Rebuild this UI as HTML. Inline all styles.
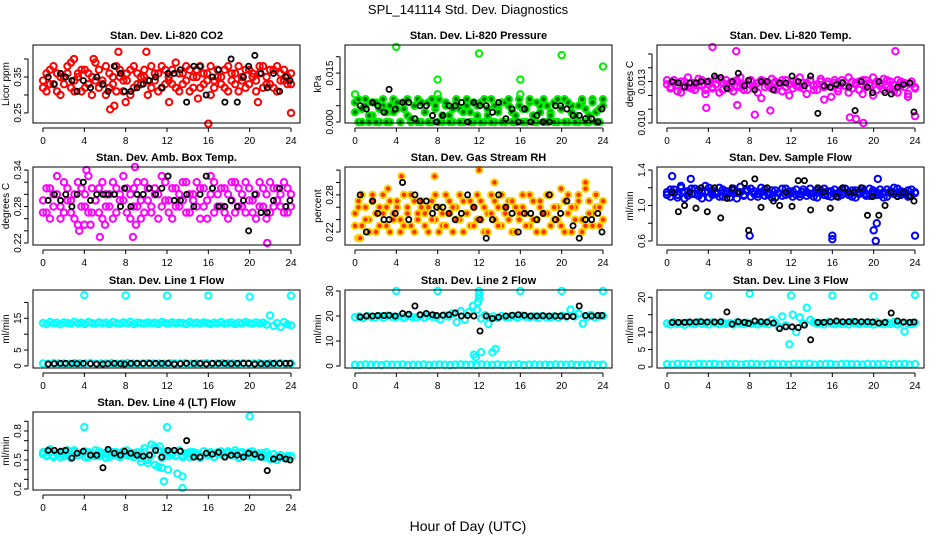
<!DOCTYPE html>
<html><head><meta charset="utf-8"><style>
html,body{margin:0;padding:0;background:#fff}
svg{display:block;font-family:"Liberation Sans",Arial,sans-serif}
</style></head><body>
<svg id="chart" width="936" height="540" viewBox="0 0 936 540">
<text x="468" y="14" text-anchor="middle" font-size="13">SPL_141114  Std. Dev. Diagnostics</text>
<text x="468" y="531" text-anchor="middle" font-size="14">Hour of Day (UTC)</text>
</svg>
<script>
// ---- shared x data ----
const xTicks = [0,4,8,12,16,20,24];
const blackHours = [0.5,1.1,1.7,2.2,2.8,3.3,3.9,4.6,5.2,5.8,6.3,6.9,7.5,7.9,8.5,9.1,9.7,10.3,10.9,11.5,12.1,12.7,13.3,13.9,14.6,15.2,15.8,16.4,17.0,17.6,18.2,18.8,19.4,19.9,20.5,21.1,21.7,22.3,22.9,23.5,23.9];
const outlierHours6 = [4,8,12,16,20,24];

// ---- panel 1: CO2 ----
const co2Vals = [0.34,0.31,0.37,0.33,0.36,0.30,0.35,0.38,0.32,0.34,0.36,0.31,0.37,0.33,0.35,0.39,0.32,0.34,0.30,0.36,0.33,0.38,0.35,0.31,0.34,0.37,0.32,0.36,0.33,0.35,0.30,0.38,0.34,0.36,0.32,0.37,0.35,0.33,0.39,0.31,0.36,0.34,0.37,0.32,0.35,0.38,0.33,0.36,0.30,0.34,0.37,0.35,0.32,0.38,0.34,0.36,0.31,0.35,0.37,0.33,0.36,0.34,0.38,0.32,0.35,0.33,0.37,0.31,0.36,0.34,0.35,0.33];
const co2ValsB = [0.32,0.36,0.33,0.38,0.31,0.35,0.33,0.36,0.39,0.31,0.35,0.37,0.32,0.36,0.30,0.34,0.37,0.33,0.38,0.32,0.35,0.31,0.37,0.34,0.36,0.30,0.38,0.33,0.35,0.37,0.34,0.32,0.36,0.31,0.38,0.33,0.34,0.37,0.32,0.36,0.33,0.38,0.31,0.35,0.37,0.32,0.36,0.34,0.38,0.32,0.35,0.33,0.37,0.31,0.36,0.33,0.38,0.34,0.32,0.37,0.35,0.31,0.36,0.38,0.33,0.37,0.32,0.38,0.34,0.37,0.33,0.36];
const co2Black = [0.35,0.33,0.36,0.35,0.34,0.31,0.34,0.32,0.35,0.33,0.31,0.38,0.36,0.31,0.31,0.32,0.33,0.34,0.35,0.32,0.36,0.36,0.37,0.28,0.38,0.38,0.30,0.35,0.37,0.28,0.40,0.28,0.35,0.38,0.41,0.36,0.32,0.36,0.31,0.35,0.34];
const co2OutH = [6.5,7.3,8,16,24,15,20.8,3,12.2,6.9,4.9,10];
const co2OutV = [0.26,0.42,0.28,0.22,0.25,0.29,0.28,0.40,0.28,0.27,0.40,0.42];

// ---- panel 2: pressure ----
const presVals = [0.006,0,0.004,0.007,0,0.002,0.006,0,0.005,0.003,0,0.007,0.004,0,0.006,0.002,0,0.005,0.007,0,0.003,0.006,0,0.004,0.007,0,0.005,0.002,0,0.006,0.004,0,0.007,0.003,0,0.005,0.006,0,0.002,0.007,0,0.004,0.006,0,0.005,0.003,0,0.007,0.004,0,0.006,0.002,0,0.005,0.007,0,0.003,0.006,0,0.004,0.007,0,0.005,0.002,0,0.006,0.004,0,0.007,0.003,0,0.005];
const presValsB = [0.003,0.007,0,0.005,0.002,0.006,0,0.004,0.007,0,0.005,0.003,0.006,0,0.004,0.007,0.001,0.005,0,0.006,0.003,0,0.007,0.005,0,0.002,0.006,0,0.004,0.007,0,0.003,0.005,0,0.006,0.002,0,0.007,0.004,0,0.005,0.003,0,0.006,0.007,0,0.002,0.005,0,0.004,0.007,0,0.006,0.003,0,0.005,0.002,0,0.007,0.004,0,0.006,0.003,0,0.005,0.007,0,0.002,0.006,0,0.004,0.007];
const presBlack = [0.005,0.004,0.006,0.005,0.003,0.010,0.004,0.006,0.006,0.001,0.005,0.005,0.002,0,0.002,0.005,0.005,0.006,0,0.006,0.005,0.005,0.003,0.006,0.001,0.004,0,0.004,0,0.002,0,0,0.005,0.005,0.004,0.002,0.002,0.001,0.001,0,0.004];
const presOutH = [4,12,20,24,0,8,8,16,16];
const presOutV = [0.023,0.021,0.0205,0.017,0.0085,0.013,0.0085,0.013,0.0085];

// ---- panel 3: Li-820 temp ----
const tempVals = [0.0128,0.0125,0.0131,0.0127,0.0122,0.0130,0.0126,0.0129,0.0124,0.0132,0.0127,0.0121,0.0130,0.0125,0.0128,0.0131,0.0124,0.0127,0.0129,0.0123,0.0131,0.0126,0.0128,0.0124,0.0130,0.0127,0.0122,0.0131,0.0126,0.0129,0.0125,0.0130,0.0127,0.0123,0.0131,0.0128,0.0125,0.0130,0.0126,0.0129,0.0121,0.0131,0.0127,0.0124,0.0130,0.0126,0.0128,0.0119,0.0131,0.0125,0.0129,0.0127,0.0122,0.0130,0.0128,0.0124,0.0131,0.0126,0.0129,0.0120,0.0130,0.0127,0.0124,0.0131,0.0125,0.0128,0.0122,0.0130,0.0126,0.0119,0.0128,0.0125];
const tempValsB = [0.0131,0.0126,0.0129,0.0123,0.0130,0.0127,0.0133,0.0125,0.0129,0.0127,0.0131,0.0124,0.0128,0.0126,0.0132,0.0122,0.0129,0.0131,0.0125,0.0130,0.0126,0.0133,0.0124,0.0128,0.0131,0.0125,0.0129,0.0118,0.0130,0.0127,0.0132,0.0124,0.0129,0.0131,0.0126,0.0120,0.0130,0.0127,0.0133,0.0125,0.0129,0.0131,0.0124,0.0128,0.0132,0.0117,0.0130,0.0126,0.0129,0.0123,0.0131,0.0127,0.0133,0.0125,0.0129,0.0130,0.0121,0.0131,0.0127,0.0133,0.0124,0.0129,0.0132,0.0126,0.0130,0.0123,0.0131,0.0127,0.0129,0.0121,0.0130,0.0126];
const tempBlack = [0.0130,0.0129,0.0126,0.0129,0.0129,0.0130,0.0130,0.0134,0.0133,0.0125,0.0130,0.0136,0.0127,0.0131,0.0124,0.0130,0.0130,0.0124,0.0129,0.0129,0.0134,0.0130,0.0127,0.0134,0.0107,0.0127,0.0126,0.0128,0.0129,0.0126,0.0109,0.0130,0.0126,0.0122,0.0130,0.0122,0.0121,0.0126,0.0128,0.0129,0.0108];
const tempOutH = [4.4,6.7,8.5,10.0,3.8,19,17.7,22.1,24,6.8,18.3];
const tempOutV = [0.0155,0.0152,0.0106,0.0109,0.0111,0.0100,0.0104,0.0152,0.0105,0.0113,0.0103];

// ---- panel 4: amb box temp ----
const ambVals = [0.29,0.27,0.31,0.28,0.30,0.26,0.32,0.29,0.27,0.30,0.25,0.31,0.28,0.33,0.27,0.29,0.31,0.26,0.30,0.28,0.32,0.27,0.30,0.29,0.31,0.26,0.28,0.32,0.29,0.27,0.31,0.28,0.30,0.26,0.33,0.29,0.27,0.31,0.28,0.30,0.29,0.32,0.27,0.30,0.28,0.26,0.31,0.29,0.33,0.27,0.30,0.28,0.31,0.26,0.29,0.32,0.28,0.30,0.27,0.31,0.29,0.26,0.32,0.28,0.30,0.27,0.31,0.29,0.28,0.32,0.27,0.30];
const ambValsB = [0.27,0.31,0.26,0.30,0.33,0.28,0.27,0.31,0.29,0.26,0.32,0.28,0.30,0.27,0.31,0.29,0.27,0.32,0.28,0.30,0.26,0.31,0.29,0.33,0.27,0.30,0.31,0.28,0.26,0.32,0.29,0.27,0.31,0.30,0.28,0.32,0.29,0.26,0.31,0.28,0.32,0.27,0.30,0.29,0.32,0.31,0.28,0.26,0.30,0.32,0.28,0.31,0.27,0.30,0.32,0.27,0.31,0.28,0.32,0.29,0.27,0.30,0.28,0.31,0.26,0.32,0.28,0.31,0.30,0.27,0.31,0.28];
const ambBlack = [0.29,0.30,0.29,0.30,0.28,0.30,0.32,0.29,0.30,0.30,0.30,0.30,0.28,0.31,0.28,0.30,0.30,0.31,0.30,0.31,0.33,0.29,0.29,0.30,0.28,0.30,0.33,0.31,0.28,0.28,0.29,0.28,0.29,0.24,0.30,0.27,0.27,0.29,0.31,0.28,0.29];
const ambOutH = [3.5,4,4.6,5.5,6,8.7,9,21.7,8.9,4.2];
const ambOutV = [0.24,0.25,0.25,0.23,0.25,0.23,0.25,0.22,0.345,0.34];

// ---- panel 5: gas stream RH ----
const rhVals = [0.25,0.27,0.23,0.26,0.24,0.28,0.22,0.26,0.25,0.23,0.27,0.24,0.26,0.22,0.28,0.25,0.23,0.27,0.24,0.26,0.25,0.22,0.27,0.24,0.26,0.23,0.28,0.25,0.22,0.26,0.24,0.27,0.25,0.23,0.26,0.24,0.27,0.22,0.25,0.28,0.24,0.26,0.23,0.25,0.27,0.22,0.26,0.24,0.28,0.25,0.23,0.27,0.24,0.26,0.22,0.25,0.28,0.24,0.26,0.23,0.27,0.25,0.22,0.26,0.28,0.24,0.23,0.27,0.25,0.26,0.23,0.27];
const rhValsB = [0.23,0.26,0.28,0.24,0.22,0.27,0.25,0.23,0.28,0.26,0.22,0.25,0.27,0.24,0.23,0.26,0.28,0.22,0.25,0.27,0.23,0.26,0.24,0.28,0.22,0.25,0.23,0.27,0.26,0.24,0.28,0.22,0.25,0.27,0.23,0.28,0.24,0.26,0.22,0.25,0.27,0.23,0.28,0.26,0.24,0.27,0.22,0.25,0.26,0.23,0.28,0.24,0.22,0.27,0.25,0.28,0.23,0.26,0.24,0.29,0.22,0.28,0.26,0.24,0.27,0.22,0.29,0.25,0.23,0.28,0.26,0.24];
const rhBlack = [0.28,0.22,0.27,0.25,0.24,0.24,0.25,0.30,0.24,0.28,0.27,0.27,0.25,0.26,0.26,0.25,0.24,0.25,0.28,0.26,0.24,0.21,0.24,0.28,0.26,0.25,0.22,0.25,0.25,0.24,0.25,0.28,0.24,0.25,0.27,0.23,0.21,0.24,0.24,0.25,0.22];
const rhOutH = [4.5,7.7,12,13.5,0.3,22.3,3.2,0.5];
const rhOutV = [0.31,0.31,0.32,0.30,0.21,0.30,0.29,0.21];

// ---- panel 6: sample flow ----
const flowVals = [1.15,1.10,1.18,1.12,1.20,1.08,1.16,1.13,1.19,1.11,1.15,1.22,1.09,1.17,1.13,1.20,1.10,1.16,1.14,1.19,1.08,1.15,1.12,1.18,1.10,1.16,1.13,1.20,1.11,1.15,1.17,1.09,1.14,1.19,1.12,1.16,1.10,1.18,1.13,1.15,1.11,1.19,1.14,1.09,1.17,1.12,1.16,1.10,1.18,1.14,1.12,1.19,1.15,1.10,1.17,1.13,1.16,1.11,1.19,1.14,1.12,1.18,1.15,1.10,1.16,1.13,1.19,1.12,1.15,1.17,1.11,1.14];
const flowValsB = [1.12,1.18,1.14,1.09,1.22,1.16,1.11,1.19,1.13,1.17,1.08,1.16,1.20,1.12,1.15,1.10,1.18,1.13,1.09,1.17,1.14,1.21,1.11,1.16,1.19,1.13,1.10,1.15,1.18,1.12,1.09,1.17,1.14,1.11,1.19,1.13,1.16,1.12,1.10,1.18,1.15,1.13,1.10,1.17,1.14,1.19,1.11,1.16,1.13,1.10,1.18,1.14,1.12,1.17,1.09,1.15,1.19,1.13,1.11,1.17,1.15,1.12,1.09,1.18,1.14,1.20,1.11,1.16,1.13,1.10,1.18,1.15];
const flowBlack = [1.15,0.93,1.00,1.15,0.97,1.20,0.93,1.20,0.86,1.08,1.20,1.15,1.25,0.72,1.30,0.98,1.20,1.05,1.00,1.15,0.99,1.28,1.28,0.95,1.20,1.15,0.97,1.10,1.20,1.15,1.15,1.20,0.89,1.10,0.89,1.00,1.15,1.10,1.15,1.10,1.05];
const flowOutH = [0.5,8,16,16,20,20.2,20.3,24,2.3,20.4];
const flowOutV = [1.33,0.66,0.66,0.62,0.72,0.60,0.80,0.66,1.30,1.30];

// ---- panel 7: line 1 flow ----
const l1High = [13.5,13.2,13.8,13.4,13.6,13.1,13.7,13.5,13.3,13.9,13.4,13.6,13.2,13.8,13.5,13.3,13.7,13.4,13.6,13.2,13.8,13.5,13.3,13.7,13.4,13.9,13.2,13.6,13.5,13.3,13.7,13.4,13.6,13.2,13.8,13.5,13.3,13.7,13.4,13.6,13.5,13.2,13.8,13.4,13.6,13.3,13.7,13.5,13.2,13.6,13.4,13.8,13.3,13.5,13.7,13.2,13.6,13.4,13.8,13.5,13.3,13.7,13.4,13.6,13.0,15.9,12.6,13.5,12.3,13.8,13.1,12.8];
const l1Low = [0.8,0.7,0.9,0.8,0.8,0.7,0.9,0.8,0.8,0.9,0.7,0.8,0.8,0.9,0.7,0.8,0.9,0.8,0.7,0.8,0.9,0.8,0.8,0.7,0.9,0.8,0.8,0.9,0.7,0.8,0.8,0.9,0.7,0.8,0.9,0.8,0.8,0.7,0.9,0.8,0.8,0.9,0.7,0.8,0.8,0.9,0.7,0.8];
const l1Black = [0.6,0.7,0.8,0.8,0.8,0.7,0.8,0.7,0.6,0.6,0.7,0.8,0.7,0.6,0.8,0.8,0.8,0.8,0.8,0.8,0.8,0.6,0.7,0.8,0.8,0.8,0.6,0.8,0.8,0.8,0.7,0.8,0.8,0.8,0.6,0.7,0.7,0.8,0.8,0.8,0.8];
const l1OutV = [22.3,22.2,22.1,22.1,21.8,22.1];

// ---- panel 8: line 2 flow ----
const l2High = [19.5,19.8,19.2,20.0,19.6,19.4,19.9,19.3,20.1,19.7,19.5,19.8,19.2,20.0,19.6,19.4,19.9,19.3,20.1,19.7,19.5,18.6,20.2,19.8,21.0,17.5,22.0,18.5,21.5,24.0,22.5,19.0,20.3,19.5,19.8,19.2,20.0,19.6,19.4,19.9,19.3,20.1,19.7,19.5,19.8,19.2,20.0,19.6,19.4,19.9,19.3,20.1,19.7,22.5,19.8,21.0,17.0,19.6,20.4,19.5,19.8,20.0];
const l2Low = [0.5,0.4,0.6,0.5,0.5,0.4,0.6,0.5,0.5,0.6,0.4,0.5,0.5,0.6,0.4,0.5,0.6,0.5,0.4,0.5,0.6,0.5,0.5,0.4,0.6,0.5,0.5,0.6,0.4,0.5,0.5,0.6,0.4,0.5,0.6,0.5,0.5,0.4,0.6,0.5,0.5,0.6,0.4,0.5,0.5,0.6,0.4,0.5];
const l2Black = [19.6,20.0,20.0,20.2,20.2,20.3,20.0,21.0,20.7,24.0,20.5,21.0,20.5,20.2,20.3,20.5,21.2,20.0,20.2,20.0,14.0,20.0,19.0,19.5,20.0,20.3,20.5,20.3,20.0,20.0,20.1,20.0,20.0,20.0,19.8,19.8,24.0,20.2,20.0,20.2,20.2];
const l2OutH = [11.5,11.7,12.2,13.3,13.6,12.9,12.0,11.9,12.0];
const l2OutV = [4.5,3.5,5.5,5.5,6.8,16.8,27.0,25.5,28.5];
const l2OutTop = [30.0,30.0,30.0,30.0,30.0,30.0];

// ---- panel 9: line 3 flow ----
const l3High = [12.5,12.2,12.8,12.4,12.6,12.1,12.7,12.5,12.3,12.9,12.4,12.6,12.2,12.8,12.5,12.3,12.7,12.4,12.6,12.2,12.8,12.5,12.3,12.7,12.4,12.9,12.2,12.6,12.5,12.3,13.5,12.8,11.5,14.5,12.0,6.5,15.0,10.0,14.2,12.5,17.0,13.5,12.8,12.4,12.6,12.2,12.8,12.5,12.3,12.7,12.4,12.6,12.2,12.8,12.5,12.3,12.7,12.4,12.6,12.2,12.8,12.5,12.3,12.7,12.4,12.9,12.2,12.6,10.2,12.5,12.3,12.7];
const l3Low = [0.8,0.7,0.9,0.8,0.8,0.7,0.9,0.8,0.8,0.9,0.7,0.8,0.8,0.9,0.7,0.8,0.9,0.8,0.7,0.8,0.9,0.8,0.8,0.7,0.9,0.8,0.8,0.9,0.7,0.8,0.8,0.9,0.7,0.8,0.9,0.8,0.8,0.7,0.9,0.8,0.8,0.9,0.7,0.8,0.8,0.9,0.7,0.8];
const l3Black = [12.8,12.8,12.8,12.9,12.9,13.0,12.9,12.9,13.0,15.8,12.3,13.0,12.8,12.5,13.2,13.0,12.9,12.6,11.0,11.5,11.5,11.3,12.0,7.8,12.8,12.8,13.0,13.2,13.0,13.0,13.1,13.0,13.0,12.9,12.6,12.8,15.5,13.2,12.9,12.8,12.9];
const l3OutTop = [20.5,21.0,20.5,20.5,20.3,20.7];

// ---- panel 10: line 4 flow ----
const l4Vals = [0.56,0.54,0.58,0.55,0.57,0.53,0.59,0.56,0.54,0.60,0.55,0.57,0.53,0.58,0.56,0.54,0.59,0.55,0.57,0.53,0.58,0.56,0.54,0.59,0.55,0.57,0.53,0.58,0.48,0.62,0.50,0.66,0.45,0.60,0.42,0.55,0.58,0.56,0.54,0.59,0.55,0.57,0.53,0.58,0.56,0.54,0.59,0.55,0.57,0.53,0.58,0.56,0.54,0.59,0.55,0.57,0.53,0.58,0.56,0.54,0.59,0.55,0.57,0.53,0.58,0.52,0.56,0.50,0.55,0.53,0.52,0.54];
const l4ValsB = [0.58,0.55,0.61,0.53,0.57,0.56,0.54,0.60,0.52,0.58,0.55,0.57,0.59,0.53,0.56,0.60,0.54,0.57,0.52,0.59,0.55,0.58,0.53,0.56,0.60,0.54,0.57,0.55,0.52,0.58,0.47,0.55,0.64,0.43,0.52,0.58,0.54,0.57,0.55,0.60,0.53,0.56,0.58,0.54,0.57,0.52,0.59,0.55,0.58,0.53,0.56,0.59,0.54,0.57,0.55,0.60,0.52,0.57,0.55,0.58,0.53,0.56,0.54,0.57,0.55,0.51,0.56,0.53,0.55,0.52,0.54,0.53];
const l4Black = [0.60,0.60,0.59,0.60,0.52,0.57,0.59,0.55,0.55,0.42,0.61,0.57,0.55,0.59,0.57,0.55,0.54,0.55,0.60,0.53,0.60,0.60,0.59,0.70,0.53,0.53,0.57,0.56,0.58,0.53,0.55,0.55,0.53,0.57,0.56,0.53,0.39,0.51,0.53,0.51,0.50];
const l4OutH = [4,12,13.5,13.5,12.1,20,11.7,13.0,11.3];
const l4OutV = [0.84,0.84,0.33,0.21,0.40,0.95,0.28,0.36,0.64];

// ---------- rendering ----------
const NS = "http://www.w3.org/2000/svg";
const svg = document.getElementById('chart');
function mk(tag, attrs, parent){
  const e = document.createElementNS(NS, tag);
  for (const k in attrs) e.setAttribute(k, attrs[k]);
  (parent||svg).appendChild(e);
  return e;
}
const rowTops = [45,167,290,412];
const BOX_H = 78, BOX_W = 267;

function seq(vals){ return vals.map((v,i)=> i*24/(vals.length-1)); }

function panel(cfg){
  const L = 33 + 312*cfg.col, T = rowTops[cfg.row];
  const g = mk('g', {});
  
  
  const xs = h => L + 10 + h*(248/24);
  const ys = v => T + BOX_H - (v - cfg.ymin)/(cfg.ymax - cfg.ymin)*BOX_H;
  const t = mk('text', {x: L + BOX_W/2, y: T - 6, 'text-anchor':'middle', 'font-size':'11', 'font-weight':'bold'}, g);
  t.textContent = cfg.title;
  
  
  const xa = mk('g', {}, g);
  
  
  mk('line', {x1: xs(0), x2: xs(24), y1: T+BOX_H+5, y2: T+BOX_H+5, stroke:'#000'}, xa);
  xTicks.forEach(h=>{
    mk('line', {x1: xs(h), x2: xs(h), y1: T+BOX_H+5, y2: T+BOX_H+9, stroke:'#000'}, xa);
    const lb = mk('text', {x: xs(h), y: T+BOX_H+21, 'text-anchor':'middle', 'font-size':'10'}, xa);
    lb.textContent = h;
  });
  const ya = mk('g', {}, g);
  
  
  const tk = cfg.ticks;
  mk('line', {x1: L-5, x2: L-5, y1: ys(tk[0]), y2: ys(tk[tk.length-1]), stroke:'#000'}, ya);
  tk.forEach(v=>{
    mk('line', {x1: L-9, x2: L-5, y1: ys(v), y2: ys(v), stroke:'#000'}, ya);
  });
  cfg.labels.forEach((lab,i)=>{
    const v = cfg.labelVals[i];
    const lb = mk('text', {x: L-12, y: ys(v), 'text-anchor':'middle', 'font-size':'10', transform:`rotate(-90 ${L-12} ${ys(v)})`}, ya);
    lb.textContent = lab;
  });
  const yl = mk('text', {x: L-24, y: T+BOX_H/2, 'text-anchor':'middle', 'font-size':'10', transform:`rotate(-90 ${L-24} ${T+BOX_H/2})`}, g);
  yl.textContent = cfg.ylab;
  
  
  const pg = mk('g', {}, g);
  
  
  cfg.series.forEach(s=>{
    s.vals.forEach((v,i)=>{
      const c = mk('circle', {cx: xs(s.hours[i]), cy: ys(v), r: s.r||3.2, fill: s.fill||'none', stroke: s.color, 'stroke-width': s.sw||2}, pg);
      
      
    });
  });
  const fr = mk('rect', {x: L, y: T, width: BOX_W, height: BOX_H, fill:'none', stroke:'#000'}, g);
  
  
}

function colored(vals, color, fill, name){ return {hours: seq(vals), vals, color, fill, name}; }
function black(vals){ return {hours: blackHours, vals, color:'#000', name:'black-point', sw:1.8, r:2.6}; }

panel({name:'panel-co2', col:0,row:0,title:'Stan. Dev. Li-820 CO2', ylab:'Licor ppm', ymin:0.222,ymax:0.439,
  ticks:[0.25,0.30,0.35,0.40], labels:['0.25','0.35'], labelVals:[0.25,0.35],
  series:[colored(co2Vals,'#ff0000',null,'co2-point'),colored(co2ValsB,'#ff0000',null,'co2-point'),{hours:co2OutH,vals:co2OutV,color:'#ff0000',name:'co2-outlier'},black(co2Black)]});
panel({name:'panel-pressure', col:1,row:0,title:'Stan. Dev. Li-820 Pressure', ylab:'kPa', ymin:-0.0003,ymax:0.0236,
  ticks:[0,0.005,0.010,0.015,0.020], labels:['0.000','0.015'], labelVals:[0,0.015],
  series:[colored(presVals,'#00ee00','#007700','pressure-point'),colored(presValsB,'#00ee00','#007700','pressure-point'),{hours:presOutH,vals:presOutV,color:'#00ee00',name:'pressure-outlier'},black(presBlack)]});
panel({name:'panel-temp', col:2,row:0,title:'Stan. Dev. Li-820 Temp.', ylab:'degrees C', ymin:0.0100,ymax:0.01565,
  ticks:[0.010,0.011,0.012,0.013,0.014,0.015], labels:['0.010','0.013'], labelVals:[0.010,0.013],
  series:[colored(tempVals,'#ff00ff',null,'temp-point'),colored(tempValsB,'#ff00ff',null,'temp-point'),{hours:tempOutH,vals:tempOutV,color:'#ff00ff',name:'temp-outlier'},black(tempBlack)]});
panel({name:'panel-amb-box', col:0,row:1,title:'Stan. Dev. Amb. Box Temp.', ylab:'degrees C', ymin:0.2167,ymax:0.345,
  ticks:[0.22,0.24,0.26,0.28,0.30,0.32,0.34], labels:['0.22','0.28','0.34'], labelVals:[0.22,0.28,0.34],
  series:[colored(ambVals,'#ff00ff',null,'amb-point'),colored(ambValsB,'#ff00ff',null,'amb-point'),{hours:ambOutH,vals:ambOutV,color:'#ff00ff',name:'amb-outlier'},black(ambBlack)]});
panel({name:'panel-rh', col:1,row:1,title:'Stan. Dev. Gas Stream RH', ylab:'percent', ymin:0.199,ymax:0.325,
  ticks:[0.22,0.24,0.26,0.28,0.30,0.32], labels:['0.22','0.28'], labelVals:[0.22,0.28],
  series:[colored(rhVals,'#ffd000','#ff3000','rh-point'),colored(rhValsB,'#ffd000','#ff3000','rh-point'),{hours:rhOutH,vals:rhOutV,color:'#ffd000',fill:'#ff3000',name:'rh-outlier'},black(rhBlack)]});
panel({name:'panel-sample-flow', col:2,row:1,title:'Stan. Dev. Sample Flow', ylab:'ml/min', ymin:0.555,ymax:1.434,
  ticks:[0.6,0.8,1.0,1.2,1.4], labels:['0.6','1.0','1.4'], labelVals:[0.6,1.0,1.4],
  series:[colored(flowVals,'#0000ff',null,'flow-point'),colored(flowValsB,'#0000ff',null,'flow-point'),{hours:flowOutH,vals:flowOutV,color:'#0000ff',name:'flow-outlier'},black(flowBlack)]});
panel({name:'panel-line1', col:0,row:2,title:'Stan. Dev. Line 1 Flow', ylab:'ml/min', ymin:-0.65,ymax:23.9,
  ticks:[0,5,10,15,20], labels:['0','5','15'], labelVals:[0,5,15],
  series:[colored(l1High,'#00ffff',null,'line1-point'),colored(l1Low,'#00ffff',null,'line1-point'),{hours:outlierHours6,vals:l1OutV,color:'#00ffff',name:'line1-outlier'},black(l1Black)]});
panel({name:'panel-line2', col:1,row:2,title:'Stan. Dev. Line 2 Flow', ylab:'ml/min', ymin:-0.8,ymax:30.4,
  ticks:[0,10,20,30], labels:['0','10','20','30'], labelVals:[0,10,20,30],
  series:[colored(l2High,'#00ffff',null,'line2-point'),colored(l2Low,'#00ffff',null,'line2-point'),{hours:l2OutH,vals:l2OutV,color:'#00ffff',name:'line2-outlier'},{hours:outlierHours6,vals:l2OutTop,color:'#00ffff',name:'line2-outlier'},black(l2Black)]});
panel({name:'panel-line3', col:2,row:2,title:'Stan. Dev. Line 3 Flow', ylab:'ml/min', ymin:-0.3,ymax:22.1,
  ticks:[0,5,10,15,20], labels:['0','5','10','20'], labelVals:[0,5,10,20],
  series:[colored(l3High,'#00ffff',null,'line3-point'),colored(l3Low,'#00ffff',null,'line3-point'),{hours:outlierHours6,vals:l3OutTop,color:'#00ffff',name:'line3-outlier'},black(l3Black)]});
panel({name:'panel-line4', col:0,row:3,title:'Stan. Dev. Line 4 (LT) Flow', ylab:'ml/min', ymin:0.19,ymax:0.996,
  ticks:[0.2,0.3,0.4,0.5,0.6,0.7,0.8,0.9], labels:['0.2','0.5','0.8'], labelVals:[0.2,0.5,0.8],
  series:[colored(l4Vals,'#00ffff',null,'line4-point'),colored(l4ValsB,'#00ffff',null,'line4-point'),{hours:l4OutH,vals:l4OutV,color:'#00ffff',name:'line4-outlier'},black(l4Black)]});
</script>
</body></html>
